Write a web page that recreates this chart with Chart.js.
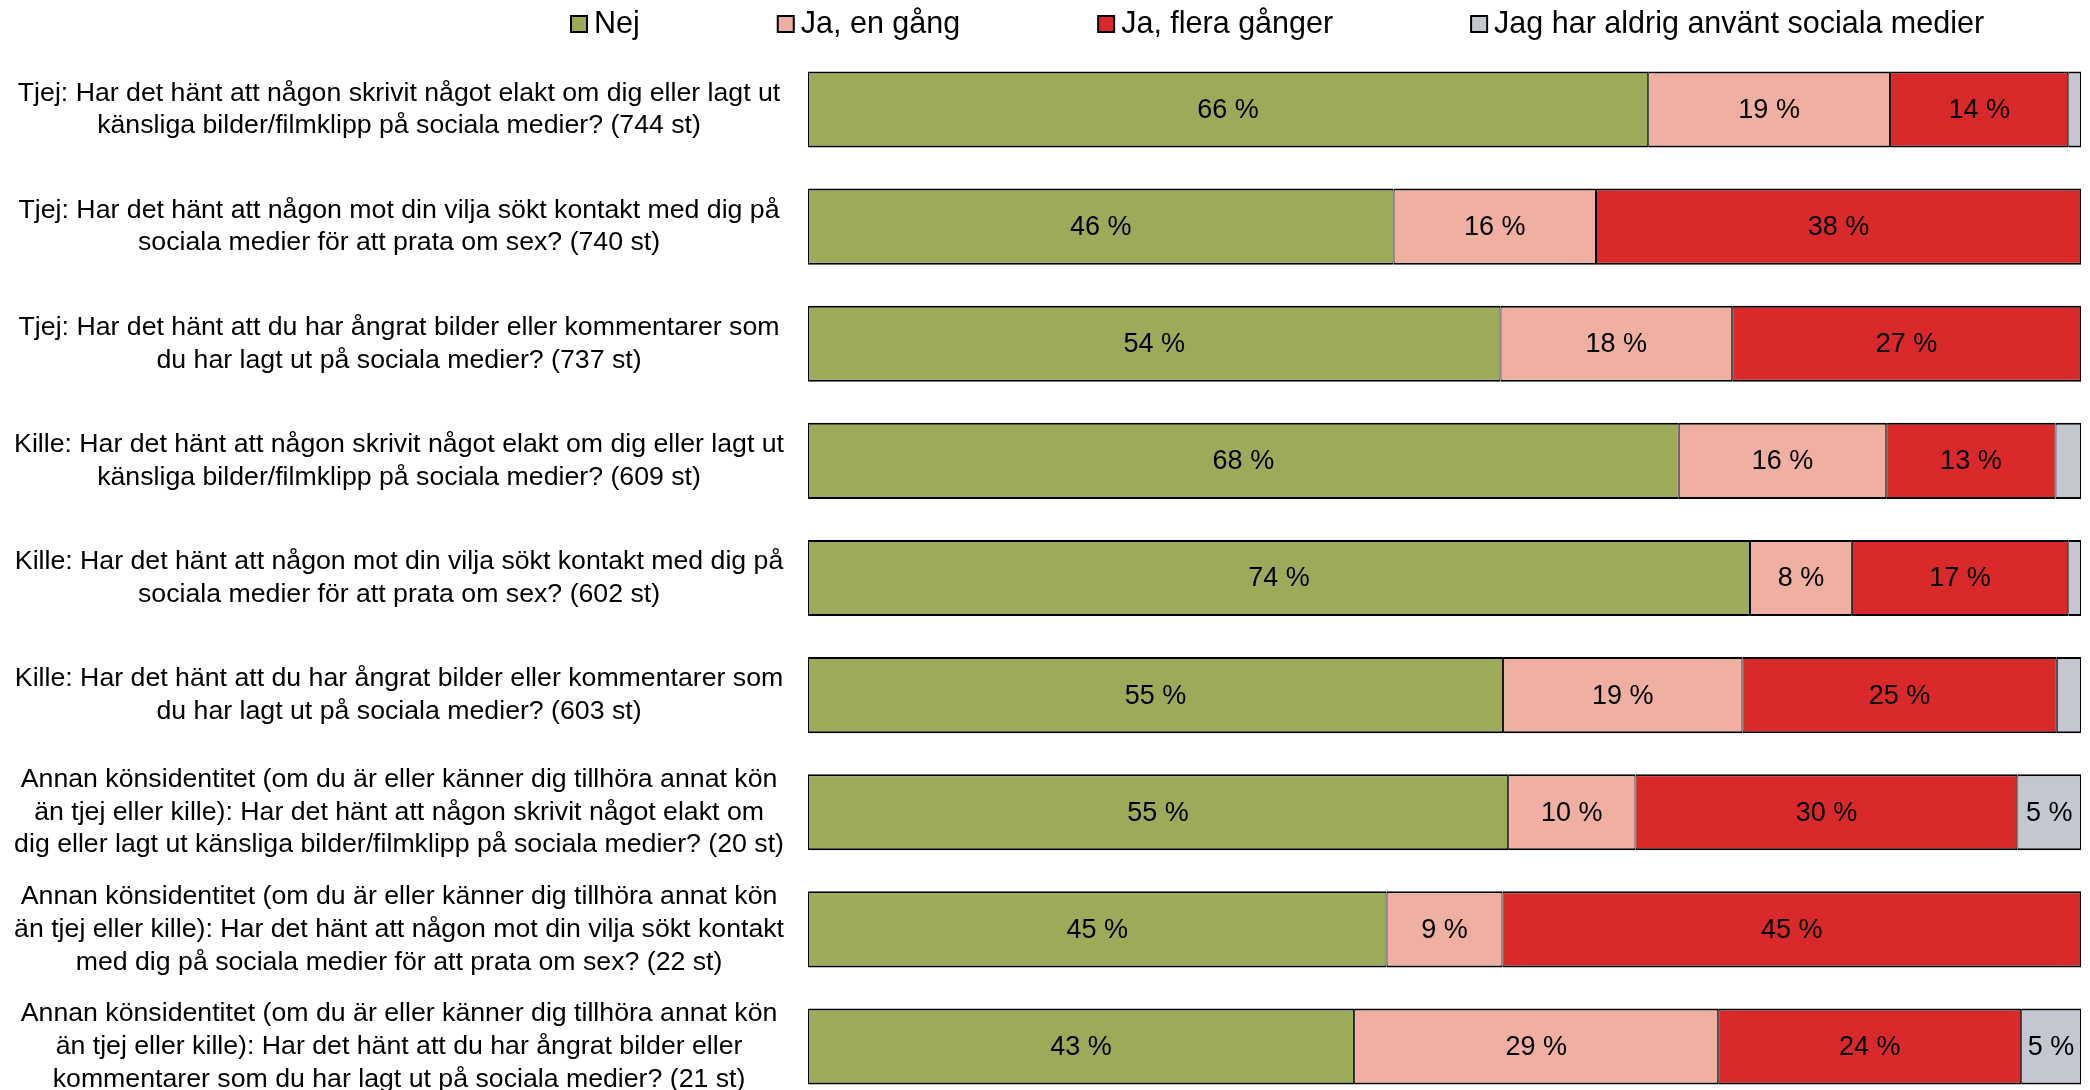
<!DOCTYPE html>
<html lang="sv">
<head>
    <meta charset="UTF-8">
    <title>Sociala medier - enkätsvar</title>
    <style>
        body {
            margin: 0;
            padding: 0;
            background: #fff;
            overflow: hidden;
        }
        canvas {
            display: block;
        }
    </style>
</head>
<body>

    <canvas id="chart" width="2090" height="1105"></canvas>

    <script src="https://cdn.jsdelivr.net/npm/chart.js"></script>
    <script>
        // frågor (en rad per stapel)
        const fragor = [
            ["Tjej: Har det hänt att någon skrivit något elakt om dig eller lagt ut", "känsliga bilder/filmklipp på sociala medier? (744 st)"],
            ["Tjej: Har det hänt att någon mot din vilja sökt kontakt med dig på", "sociala medier för att prata om sex? (740 st)"],
            ["Tjej: Har det hänt att du har ångrat bilder eller kommentarer som", "du har lagt ut på sociala medier? (737 st)"],
            ["Kille: Har det hänt att någon skrivit något elakt om dig eller lagt ut", "känsliga bilder/filmklipp på sociala medier? (609 st)"],
            ["Kille: Har det hänt att någon mot din vilja sökt kontakt med dig på", "sociala medier för att prata om sex? (602 st)"],
            ["Kille: Har det hänt att du har ångrat bilder eller kommentarer som", "du har lagt ut på sociala medier? (603 st)"],
            ["Annan könsidentitet (om du är eller känner dig tillhöra annat kön", "än tjej eller kille): Har det hänt att någon skrivit något elakt om", "dig eller lagt ut känsliga bilder/filmklipp på sociala medier? (20 st)"],
            ["Annan könsidentitet (om du är eller känner dig tillhöra annat kön", "än tjej eller kille): Har det hänt att någon mot din vilja sökt kontakt", "med dig på sociala medier för att prata om sex? (22 st)"],
            ["Annan könsidentitet (om du är eller känner dig tillhöra annat kön", "än tjej eller kille): Har det hänt att du har ångrat bilder eller", "kommentarer som du har lagt ut på sociala medier? (21 st)"]
        ];

        // andel i procent
        const nej      = [66.0, 46.0, 54.4, 68.4, 74.0, 54.6, 55.0, 45.45, 42.9];
        const jaEnGang = [19.0, 15.9, 18.2, 16.3,  8.0, 18.8, 10.0,  9.1,  28.6];
        const jaFlera  = [14.0, 38.1, 27.4, 13.3, 17.0, 24.7, 30.0, 45.45, 23.8];
        const aldrig   = [ 1.0,  0,    0,    2.0,  1.0,  1.9,  5.0,  0,     4.7];

        const serier = ["Nej", "Ja, en gång", "Ja, flera gånger", "Jag har aldrig använt sociala medier"];
        const farger = ["#9bab5a", "#efb0a2", "#d9292a", "#c4c7cf"];

        const FONT = "'Liberation Sans', Arial, sans-serif";

        // procenttext mitt i varje stapeldel
        const varden = {
            id: "varden",
            afterDatasetsDraw(chart) {
                const ctx = chart.ctx;
                ctx.save();
                ctx.font = "27px " + FONT;
                ctx.fillStyle = "#000";
                ctx.textAlign = "center";
                ctx.textBaseline = "middle";
                chart.data.datasets.forEach((ds, i) => {
                    chart.getDatasetMeta(i).data.forEach((bar, j) => {
                        const v = ds.data[j];
                        if (!v || v < 3) return;
                        const p = bar.getCenterPoint();
                        ctx.fillText(Math.round(v) + " %", p.x, p.y + 1);
                    });
                });
                ctx.restore();
            }
        };

        // förklaring överst, rutor med svart kant
        const forklaring = {
            id: "forklaring",
            afterDraw(chart, args, opts) {
                const ctx = chart.ctx;
                ctx.save();
                ctx.font = "30.5px " + FONT;
                ctx.textBaseline = "middle";
                let x = opts.start;
                const y = opts.y;
                serier.forEach((namn, i) => {
                    ctx.fillStyle = farger[i];
                    ctx.fillRect(x, y - 8, 16, 16);
                    ctx.lineWidth = 2;
                    ctx.strokeStyle = "#000";
                    ctx.strokeRect(x, y - 8, 16, 16);
                    ctx.fillStyle = "#000";
                    ctx.fillText(namn, x + 23, y + 1);
                    x += 23 + ctx.measureText(namn).width + opts.gap;
                });
                ctx.restore();
            }
        };

        const ctx = document.getElementById("chart").getContext("2d");
        new Chart(ctx, {
            type: "bar",
            data: {
                labels: fragor,
                datasets: [nej, jaEnGang, jaFlera, aldrig].map((d, i) => ({
                    label: serier[i],
                    data: d,
                    backgroundColor: farger[i],
                    borderColor: "#000",
                    borderWidth: { top: 2, bottom: 2, left: 1, right: 1 },
                    borderSkipped: false,
                    barPercentage: 0.65,
                    categoryPercentage: 1
                }))
            },
            options: {
                indexAxis: "y",
                responsive: false,
                animation: false,
                layout: { padding: { top: 51, right: 9, bottom: 0, left: 0 } },
                scales: {
                    x: {
                        stacked: true,
                        min: 0,
                        max: 100,
                        display: false
                    },
                    y: {
                        stacked: true,
                        grid: { display: false, drawTicks: false },
                        border: { display: false },
                        ticks: {
                            crossAlign: "center",
                            padding: 24,
                            color: "#000",
                            font: { family: FONT, size: 26.7, lineHeight: 1.23 }
                        },
                        afterFit(scale) {
                            // fast bredd för frågetexten, ingen extra luft över/under
                            scale.width = 808;
                            scale.paddingTop = 0;
                            scale.paddingBottom = 0;
                        }
                    }
                },
                plugins: {
                    legend: { display: false },
                    tooltip: { enabled: false },
                    forklaring: { start: 571, y: 24, gap: 138 }
                }
            },
            plugins: [varden, forklaring]
        });
    </script>

</body>
</html>
